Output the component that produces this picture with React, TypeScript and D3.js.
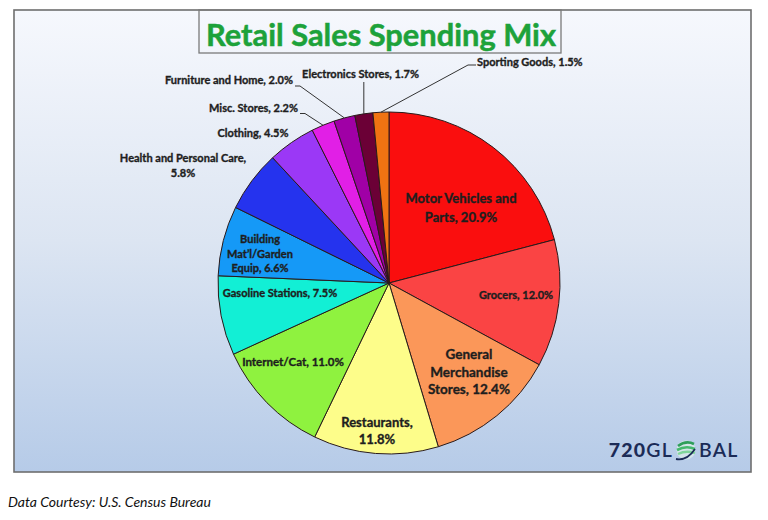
import React from 'react';
import * as d3 from 'd3';

const categories = [
  'Motor Vehicles and Parts', 'Grocers', 'General Merchandise Stores', 'Restaurants',
  'Internet/Cat', 'Gasoline Stations', 'Building Mat’l/Garden Equip', 'Health and Personal Care',
  'Clothing', 'Misc. Stores', 'Furniture and Home', 'Electronics Stores', 'Sporting Goods',
];
const values = [20.9, 12.0, 12.4, 11.8, 11.0, 7.5, 6.6, 5.8, 4.5, 2.2, 2.0, 1.7, 1.5];
const labelLines = [
  ['Motor Vehicles and', 'Parts, 20.9%'],
  ['Grocers, 12.0%'],
  ['General', 'Merchandise', 'Stores, 12.4%'],
  ['Restaurants,', '11.8%'],
  ['Internet/Cat, 11.0%'],
  ['Gasoline Stations, 7.5%'],
  ['Building', 'Mat’l/Garden', 'Equip, 6.6%'],
  ['Health and Personal Care,', '5.8%'],
  ['Clothing, 4.5%'],
  ['Misc. Stores, 2.2%'],
  ['Furniture and Home, 2.0%'],
  ['Electronics Stores, 1.7%'],
  ['Sporting Goods, 1.5%'],
];
const colors = [
  '#FA0E0E', '#FA4444', '#FB9759', '#FDFD8A', '#8FF23F', '#12EFD5', '#1599F7',
  '#2533EE', '#9B38F6', '#E11FE6', '#A000A6', '#6B0036', '#F07312',
];

type Lay = { dx: number; dy: number; lh?: number; size: number; anchor?: string; leader?: number[][] };
const labelLayout: Lay[] = [
  { dx: 72, dy: -80, lh: 19, size: 13 },
  { dx: 127, dy: 16, size: 11 },
  { dx: 80, dy: 76, lh: 17.5, size: 13.5 },
  { dx: -12, dy: 144, lh: 17, size: 13 },
  { dx: -96, dy: 83, size: 11.5 },
  { dx: -109, dy: 14, size: 11 },
  { dx: -129, dy: -40, lh: 14.5, size: 11 },
  { dx: -206, dy: -121, lh: 14.5, size: 11 },
  { dx: -136, dy: -146, size: 11 },
  { dx: -91, dy: -171, size: 11, anchor: 'end', leader: [[-89, -169.5], [-84, -169.5]] },
  { dx: -96, dy: -199, size: 11, anchor: 'end', leader: [[-94, -197], [-89, -197]] },
  { dx: -28.5, dy: -205, size: 11, anchor: 'middle', leader: [[-26, -201]] },
  { dx: 88, dy: -217, size: 11, anchor: 'start', leader: [[87, -218], [79, -218]] },
];

const W = 768, H = 520;
const cx = 389, cy = 283, R = 171;
const FONT = 'Lato, "Open Sans", sans-serif';

export default function App() {
  const pie = d3.pie<number>().sort(null).value((d) => d).startAngle(0).endAngle(2 * Math.PI);
  const arcs = pie(values);
  const arc = d3.arc<d3.PieArcDatum<number>>().innerRadius(0).outerRadius(R);
  const line = d3.line();

  return (
    <svg width={W} height={H} style={{ position: 'absolute', left: 0, top: 0, background: '#fff' }}>
      <defs>
        <linearGradient id="bg" x1="0" y1="0" x2="0" y2="1">
          <stop offset="0" stopColor="#F6F8FD" />
          <stop offset="0.5" stopColor="#DCE5F2" />
          <stop offset="1" stopColor="#B6CBE8" />
        </linearGradient>
      </defs>
      <rect x={14} y={10} width={737} height={462} fill="url(#bg)" stroke="#6E6E6E" strokeWidth={1.6} />
      <rect x={199} y={10} width={362} height={43} fill="none" stroke="#7A7A7A" strokeWidth={1.3} />
      <text x={381} y={46} textAnchor="middle" fontFamily={FONT} fontWeight={700} fontSize={30}
        fill="#1DA23A" stroke="#1DA23A" strokeWidth={0.5} textLength={350} lengthAdjust="spacingAndGlyphs">Retail Sales Spending Mix</text>

      <g transform={`translate(${cx},${cy})`}>
        {arcs.map((a, i) => (
          <path key={categories[i]} d={arc(a) || ''} fill={colors[i]} stroke="#2A1A1A" strokeWidth={1} />
        ))}
        {arcs.map((a, i) => {
          const L = labelLayout[i];
          if (!L.leader) return null;
          const mid = (a.startAngle + a.endAngle) / 2;
          const edge: [number, number] = [R * Math.sin(mid), -R * Math.cos(mid)];
          const pts = [...L.leader.map((p) => [p[0], p[1]] as [number, number]), edge];
          if (L.leader.length === 1) pts[0][0] = edge[0];
          return <path key={'l' + i} d={line(pts) || ''} fill="none" stroke="#333" strokeWidth={1} />;
        })}
        {labelLines.map((lines, i) => {
          const L = labelLayout[i];
          return (
            <text key={'t' + i} x={L.dx} y={L.dy} textAnchor={L.anchor || 'middle'} fontFamily={FONT}
              fontWeight={700} fontSize={L.size} fill="#1E1E1E" stroke="#1E1E1E" strokeWidth={0.35}>
              {lines.map((s, j) => (
                <tspan key={j} x={L.dx} dy={j === 0 ? 0 : L.lh}>{s}</tspan>
              ))}
            </text>
          );
        })}
      </g>

      <g>
        <text x={673} y={457} textAnchor="end" fontFamily={FONT} fontSize={19.5} fill="#1B2B57" letterSpacing={1.2}>
          <tspan fontWeight={900}>720</tspan>
          <tspan fontWeight={600}>GL</tspan>
        </text>
        <g transform="translate(686,450)">
          <circle r={9.5} fill="#E6F5EA" opacity={0.6} />
          <path d="M-8,-4 Q0,-10 8,-6" stroke="#2F9E5B" strokeWidth={2.6} fill="none" />
          <path d="M-9,0 Q0,-5 9,-1" stroke="#45B86E" strokeWidth={2.6} fill="none" />
          <path d="M-8,4 Q0,0 9,3" stroke="#7FD59A" strokeWidth={2.4} fill="none" />
          <path d="M-10,9 Q1,11 9,-1" stroke="#1B2B57" strokeWidth={1.8} fill="none" />
        </g>
        <text x={699} y={457} fontFamily={FONT} fontSize={19.5} fontWeight={600} fill="#1B2B57" letterSpacing={1.2}>BAL</text>
      </g>

      <text x={8} y={507} fontFamily={FONT} fontStyle="italic" fontSize={14} fill="#111">Data Courtesy: U.S. Census Bureau</text>
    </svg>
  );
}
